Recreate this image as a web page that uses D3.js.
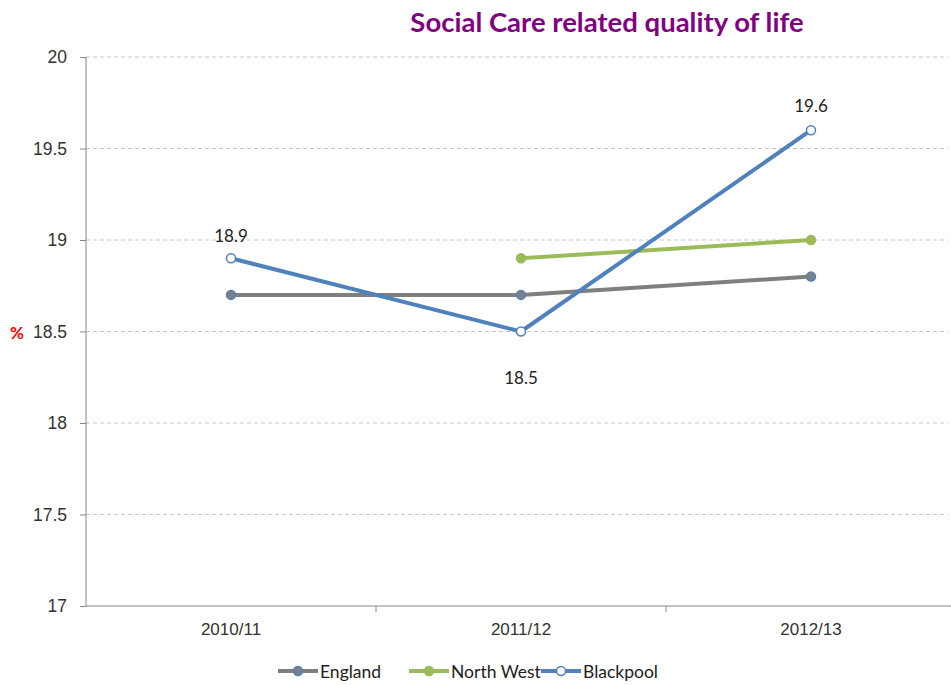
<!DOCTYPE html>
<html><head><meta charset="utf-8">
<script src="https://cdn.jsdelivr.net/npm/d3@7"></script>
<style>body{margin:0;background:#fff}svg{display:block;font-family:Lato,"Open Sans",sans-serif}</style>
</head><body><svg id="c" width="951" height="685"></svg>
<script>
const categories = ["2010/11","2011/12","2012/13"];
const england = [18.7, 18.7, 18.8];
const northWest = [null, 18.9, 19.0];
const blackpool = [18.9, 18.5, 19.6];
const yTicks = [17, 17.5, 18, 18.5, 19, 19.5, 20];
const seriesNames = ["England","North West","Blackpool"];

(function(){
const svg = d3.select("#c");
const mLeft = 86, mRight = 956, mTop = 57, mBottom = 606;
const x = d3.scaleBand().domain(categories).range([mLeft, mRight]);
const y = d3.scaleLinear().domain([17, 20]).range([mBottom, mTop]);
const cx = c => x(c) + x.bandwidth()/2;

svg.append("text").attr("x", 607).attr("y", 32).attr("text-anchor","middle")
  .attr("font-size", 27.5).attr("font-weight","bold").attr("fill","#800080")
  .text("Social Care related quality of life");

// gridlines
svg.append("g").selectAll("line").data(yTicks.filter(t => t !== 17)).join("line")
  .attr("x1", mLeft).attr("x2", 948).attr("y1", d => y(d)).attr("y2", d => y(d))
  .attr("stroke","#c8c8c8").attr("stroke-dasharray","4,3");

// y axis
const yAxis = svg.append("g").attr("transform", `translate(${mLeft},0)`)
  .call(d3.axisLeft(y).tickValues(yTicks).tickSize(6).tickPadding(13).tickFormat(d => String(d)));
yAxis.select(".domain").attr("stroke","#868686").attr("d", `M0,${mTop}V${mBottom}`);
yAxis.selectAll(".tick line").attr("stroke","#868686");
yAxis.selectAll("text").attr("font-size",17.5).attr("fill","#333");

svg.append("text").attr("x", 10).attr("y", y(18.5)+7).attr("fill","#ff0000")
  .attr("font-size",17).attr("font-weight","bold").text("%");

// x axis
const xAxis = svg.append("g").attr("transform", `translate(0,${mBottom})`)
  .call(d3.axisBottom(x).tickSize(0).tickPadding(17));
xAxis.select(".domain").attr("stroke","#868686").attr("d", `M${mLeft},0H951`);
xAxis.selectAll("text").attr("font-size",17).attr("fill","#333");
xAxis.append("g").selectAll("line").data(categories.slice(1)).join("line")
  .attr("x1", d => x(d)).attr("x2", d => x(d)).attr("y1",0).attr("y2",6).attr("stroke","#868686");

const series = [
  {name: seriesNames[0], values: england, color:"#7f7f7f", fill:"#7f7f7f", stroke:"#4f81bd"},
  {name: seriesNames[1], values: northWest, color:"#9bbb59", fill:"#9bbb59", stroke:"#9bbb59"},
  {name: seriesNames[2], values: blackpool, color:"#4f81bd", fill:"#ffffff", stroke:"#4f81bd"}
];
const line = d3.line().defined(d => d.v != null).x(d => cx(d.c)).y(d => y(d.v));
series.forEach(s => {
  const pts = categories.map((c,i) => ({c, v: s.values[i]}));
  svg.append("path").datum(pts).attr("d", line).attr("fill","none")
    .attr("stroke", s.color).attr("stroke-width",4).attr("stroke-linejoin","round");
  svg.append("g").selectAll("circle").data(pts.filter(d => d.v != null)).join("circle")
    .attr("cx", d => cx(d.c)).attr("cy", d => y(d.v)).attr("r",4.5)
    .attr("fill", s.fill).attr("stroke", s.stroke).attr("stroke-width",1.5);
});

// data labels for Blackpool
const labelOffsets = [-16, 52, -18];
svg.append("g").selectAll("text").data(categories).join("text")
  .attr("x", d => cx(d)).attr("y", (d,i) => y(blackpool[i]) + labelOffsets[i])
  .attr("text-anchor","middle").attr("font-size",17).attr("fill","#222")
  .text((d,i) => blackpool[i]);

// legend
const legX = [278, 409, 541];
const lg = svg.append("g");
series.forEach((s,i) => {
  const g = lg.append("g").attr("transform", `translate(${legX[i]},671)`);
  g.append("line").attr("x1",0).attr("x2",40).attr("stroke",s.color).attr("stroke-width",4);
  g.append("circle").attr("cx",20).attr("r",4.5).attr("fill",s.fill).attr("stroke",s.stroke).attr("stroke-width",1.5);
  g.append("text").attr("x",42).attr("y",6.5).attr("font-size",17.5).attr("fill","#222").text(s.name);
});
})();
</script></body></html>
